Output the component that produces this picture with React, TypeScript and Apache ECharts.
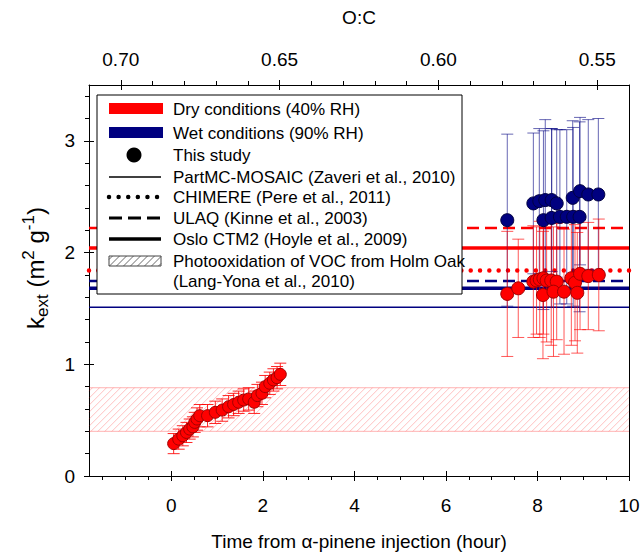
import React, { useEffect, useRef } from "react";
import * as echarts from "echarts";

// ---- axes ----
const timeRange = [-1.8, 10];
const timeTicks = [0, 2, 4, 6, 8, 10];
const timeMinorTicks = [-1.5, -1, -0.5, 0.5, 1, 1.5, 2.5, 3, 3.5, 4.5, 5, 5.5, 6.5, 7, 7.5, 8.5, 9, 9.5];
const ocRange = [0.54, 0.71];
const ocTicks = [0.7, 0.65, 0.6, 0.55];
const ocMinorTicks = [0.69, 0.68, 0.67, 0.66, 0.64, 0.63, 0.62, 0.61, 0.59, 0.58, 0.57, 0.56];
const kRange = [0, 3.5];
const kTicks = [0, 1, 2, 3];
const kMinorTicks = [0.2, 0.4, 0.6, 0.8, 1.2, 1.4, 1.6, 1.8, 2.2, 2.4, 2.6, 2.8, 3.2, 3.4];

// ---- this study: dry (40% RH), early period ----
const dryEarlyTime = [0.05, 0.16, 0.25, 0.33, 0.4, 0.47, 0.51, 0.56, 0.62, 0.79, 0.96, 1.11, 1.25, 1.36, 1.47, 1.58, 1.69, 1.81, 1.88, 1.98, 2.05, 2.15, 2.23, 2.31, 2.38];
const dryEarlyK = [0.29, 0.33, 0.36, 0.39, 0.42, 0.44, 0.48, 0.51, 0.54, 0.54, 0.57, 0.59, 0.62, 0.64, 0.66, 0.68, 0.69, 0.66, 0.72, 0.74, 0.8, 0.83, 0.86, 0.88, 0.91];
const dryEarlyErr = [0.09, 0.09, 0.09, 0.09, 0.09, 0.09, 0.09, 0.1, 0.1, 0.1, 0.1, 0.1, 0.1, 0.1, 0.1, 0.1, 0.1, 0.1, 0.1, 0.1, 0.1, 0.1, 0.1, 0.1, 0.1];

// ---- this study: dry (40% RH), late period ----
const dryLateTime = [7.34, 7.58, 7.91, 7.98, 8.05, 8.13, 8.2, 8.3, 8.42, 8.12, 8.35, 8.58, 8.74, 8.82, 8.87, 8.93, 9.11, 9.34];
const dryLateK = [1.63, 1.68, 1.74, 1.75, 1.76, 1.77, 1.75, 1.75, 1.74, 1.62, 1.65, 1.65, 1.77, 1.73, 1.64, 1.81, 1.79, 1.8];
const dryLateErr = [0.56, 0.44, 0.5, 0.48, 0.52, 0.5, 0.55, 0.58, 0.52, 0.57, 0.58, 0.56, 0.6, 0.52, 0.54, 0.5, 0.48, 0.5];

// ---- this study: wet (90% RH) ----
const wetTime = [7.34, 7.91, 8.04, 8.17, 8.31, 8.42, 8.13, 8.31, 8.49, 8.64, 8.78, 8.92, 8.77, 8.93, 9.11, 9.33];
const wetK = [2.29, 2.44, 2.46, 2.47, 2.47, 2.44, 2.29, 2.31, 2.32, 2.32, 2.32, 2.32, 2.49, 2.55, 2.52, 2.52];
const wetErr = [0.77, 0.63, 0.65, 0.72, 0.64, 0.66, 0.8, 0.8, 0.78, 0.78, 0.8, 0.85, 0.69, 0.66, 0.67, 0.68];

// ---- model / literature values ----
const dryOslo = 2.04;
const dryULAQ = 2.22;
const dryCHIMERE = 1.84;
const wetULAQ = 1.745;
const wetOslo = 1.68;
const wetPartMC = 1.51;
const holmOakRange = [0.4, 0.79];

const legendLabels = [
  "Dry conditions (40% RH)",
  "Wet conditions (90% RH)",
  "This study",
  "PartMC-MOSAIC (Zaveri et al., 2010)",
  "CHIMERE (Pere et al., 2011)",
  "ULAQ (Kinne et al., 2003)",
  "Oslo CTM2 (Hoyle et al., 2009)",
  "Photooxidation of VOC from Holm Oak",
  "(Lang-Yona et al., 2010)",
];

const RED = "#ff0000";
const NAVY = "#000080";
const FONT = "Liberation Sans, Arial, sans-serif";

function zip3(a: number[], b: number[], c: number[]) {
  return a.map((v, i) => [v, b[i], c[i]]);
}

function hLine(v: number, color: string, width: number, type: any, z: number, cap = "butt") {
  return {
    type: "line",
    data: [[timeRange[0], v], [timeRange[1], v]],
    symbol: "none",
    silent: true,
    z,
    lineStyle: { color, width, type, cap },
  };
}

function errorSeries(data: number[][], color: string, z: number) {
  return {
    type: "custom",
    z,
    silent: true,
    data,
    renderItem: (params: any, api: any) => {
      const x = api.value(0);
      const y = api.value(1);
      const e = api.value(2);
      const top = api.coord([x, y + e]);
      const bot = api.coord([x, y - e]);
      const h = 6;
      const st = { stroke: color, lineWidth: 1 };
      return {
        type: "group",
        children: [
          { type: "line", shape: { x1: top[0], y1: top[1], x2: bot[0], y2: bot[1] }, style: st },
          { type: "line", shape: { x1: top[0] - h, y1: top[1], x2: top[0] + h, y2: top[1] }, style: st },
          { type: "line", shape: { x1: bot[0] - h, y1: bot[1], x2: bot[0] + h, y2: bot[1] }, style: st },
        ],
      };
    },
  };
}

function hatchLines(L: number, T: number, R: number, B: number, step: number, style: any) {
  const out: any[] = [];
  for (let c = L + T + step / 2; c < R + B; c += step) {
    const x1 = Math.max(L, c - B);
    const x2 = Math.min(R, c - T);
    if (x2 > x1) out.push({ type: "line", shape: { x1, y1: c - x1, x2, y2: c - x2 }, style });
  }
  return out;
}

export default function App() {
  const ref = useRef<HTMLDivElement>(null);
  useEffect(() => {
    document.body.style.margin = "0";
    const chart = echarts.init(ref.current!, undefined, { renderer: "svg" });
    const axisLine = { show: true, onZero: false, lineStyle: { color: "#000", width: 1 } };
    const noLine = { show: false, onZero: false };
    const labelStyle = { fontSize: 19, color: "#000", fontFamily: FONT };
    const baseX = (extra: any) => ({
      type: "value",
      min: timeRange[0],
      max: timeRange[1],
      position: "bottom",
      splitLine: { show: false },
      ...extra,
    });
    const baseTop = (extra: any) => ({
      type: "value",
      min: ocRange[0],
      max: ocRange[1],
      inverse: true,
      position: "top",
      splitLine: { show: false },
      ...extra,
    });
    const baseY = (extra: any) => ({
      type: "value",
      min: kRange[0],
      max: kRange[1],
      position: "left",
      splitLine: { show: false },
      ...extra,
    });

    const legendX = 109;
    const textX = 173;
    const rowsY = [109, 133, 155, 177, 197, 218, 239, 261, 281];
    const legendEls: any[] = [
      { type: "rect", z: 100, shape: { x: 97, y: 95, width: 365, height: 199 }, style: { fill: "#fff", stroke: "#000", lineWidth: 1 } },
      { type: "rect", z: 101, shape: { x: legendX, y: rowsY[0] - 6, width: 54, height: 11 }, style: { fill: RED } },
      { type: "rect", z: 101, shape: { x: legendX, y: rowsY[1] - 6, width: 54, height: 11 }, style: { fill: NAVY } },
      { type: "circle", z: 101, shape: { cx: 134, cy: rowsY[2], r: 7.5 }, style: { fill: "#000" } },
      { type: "line", z: 101, shape: { x1: legendX, y1: rowsY[3], x2: 161, y2: rowsY[3] }, style: { stroke: "#000", lineWidth: 1.5 } },
      { type: "line", z: 101, shape: { x1: legendX, y1: rowsY[4], x2: 161, y2: rowsY[4] }, style: { stroke: "#000", lineWidth: 4.5, lineDash: [0.01, 9.6], lineCap: "round" } },
      { type: "line", z: 101, shape: { x1: legendX, y1: rowsY[5], x2: 162, y2: rowsY[5] }, style: { stroke: "#000", lineWidth: 3, lineDash: [13, 6] } },
      { type: "line", z: 101, shape: { x1: legendX, y1: rowsY[6], x2: 161, y2: rowsY[6] }, style: { stroke: "#000", lineWidth: 3.5 } },
      { type: "rect", z: 101, shape: { x: legendX, y: rowsY[7] - 5, width: 52, height: 10 }, style: { fill: "#fff", stroke: "#444", lineWidth: 1 } },
      ...hatchLines(legendX, rowsY[7] - 5, legendX + 52, rowsY[7] + 5, 7, { stroke: "#444", lineWidth: 0.8 }).map((e) => ({ ...e, z: 102 })),
      ...legendLabels.map((t, i) => ({
        type: "text",
        z: 101,
        x: textX,
        y: rowsY[i],
        style: { text: t, fontSize: 17, fontFamily: FONT, fill: "#000", align: "left", verticalAlign: "middle" },
      })),
      {
        type: "text",
        z: 101,
        x: 35,
        y: 268,
        rotation: Math.PI / 2,
        style: {
          text: "{a|k}{b|ext}{a| (m}{c|2}{a| g}{c|-1}{a|)}",
          align: "center",
          verticalAlign: "middle",
          fill: "#000",
          rich: {
            a: { fontSize: 24, fontFamily: FONT, lineHeight: 31, fill: "#000" },
            b: { fontSize: 17, fontFamily: FONT, lineHeight: 15, verticalAlign: "bottom", fill: "#000" },
            c: { fontSize: 17, fontFamily: FONT, lineHeight: 15, verticalAlign: "top", fill: "#000" },
          },
        },
      },
    ];

    const option: any = {
      animation: false,
      textStyle: { fontFamily: FONT },
      grid: { left: 89, right: 12, top: 85, bottom: 76, containLabel: false, outerBoundsMode: "none" },
      xAxis: [
        baseX({
          axisLine,
          axisTick: { show: true, customValues: timeTicks, length: 5, lineStyle: { color: "#000" } },
          axisLabel: { ...labelStyle, customValues: timeTicks, margin: 20 },
          name: "Time from \u03b1-pinene injection (hour)",
          nameLocation: "middle",
          nameGap: 56,
          nameTextStyle: { fontSize: 19, color: "#000", fontFamily: FONT },
        }),
        baseX({
          axisLine: noLine,
          axisTick: { show: true, inside: true, customValues: timeTicks, length: 5, lineStyle: { color: "#000" } },
          axisLabel: { show: false },
        }),
        baseX({
          axisLine: noLine,
          axisTick: { show: true, customValues: timeMinorTicks, length: 4, lineStyle: { color: "#000" } },
          axisLabel: { show: false },
        }),
        baseTop({
          axisLine,
          axisTick: { show: true, customValues: ocTicks, length: 5, lineStyle: { color: "#000" } },
          axisLabel: { ...labelStyle, customValues: ocTicks, margin: 16, formatter: (v: number) => v.toFixed(2) },
          name: "O:C",
          nameLocation: "middle",
          nameGap: 58,
          nameTextStyle: { fontSize: 19, color: "#000", fontFamily: FONT },
        }),
        baseTop({
          axisLine: noLine,
          axisTick: { show: true, inside: true, customValues: ocTicks, length: 5, lineStyle: { color: "#000" } },
          axisLabel: { show: false },
        }),
        baseTop({
          axisLine: noLine,
          axisTick: { show: true, customValues: ocMinorTicks, length: 4, lineStyle: { color: "#000" } },
          axisLabel: { show: false },
        }),
      ],
      yAxis: [
        baseY({
          axisLine,
          axisTick: { show: true, customValues: kTicks, length: 5, lineStyle: { color: "#000" } },
          axisLabel: { ...labelStyle, customValues: kTicks, margin: 14 },
        }),
        baseY({
          axisLine: noLine,
          axisTick: { show: true, inside: true, customValues: kTicks, length: 5, lineStyle: { color: "#000" } },
          axisLabel: { show: false },
        }),
        baseY({
          axisLine: noLine,
          axisTick: { show: true, customValues: kMinorTicks, length: 4, lineStyle: { color: "#000" } },
          axisLabel: { show: false },
        }),
        baseY({
          position: "right",
          axisLine,
          axisTick: { show: false },
          axisLabel: { show: false },
        }),
      ],
      graphic: { elements: legendEls },
      series: [
        {
          type: "custom",
          z: 1,
          silent: true,
          data: [[timeRange[0], timeRange[1], holmOakRange[0], holmOakRange[1]]],
          renderItem: (params: any, api: any) => {
            const p1 = api.coord([api.value(0), api.value(3)]);
            const p2 = api.coord([api.value(1), api.value(2)]);
            const L = p1[0], T = p1[1], R = p2[0], B = p2[1];
            const edge = { stroke: "rgba(255,0,0,0.3)", lineWidth: 1 };
            return {
              type: "group",
              children: [
                ...hatchLines(L, T, R, B, 7, { stroke: "rgba(255,0,0,0.28)", lineWidth: 0.9 }),
                { type: "line", shape: { x1: L, y1: T, x2: R, y2: T }, style: edge },
                { type: "line", shape: { x1: L, y1: B, x2: R, y2: B }, style: edge },
              ],
            };
          },
        },
        hLine(wetPartMC, NAVY, 1.6, "solid", 2),
        hLine(wetOslo, NAVY, 3.5, "solid", 2),
        hLine(wetULAQ, NAVY, 2.5, [12, 6], 2),
        hLine(dryCHIMERE, RED, 4.5, [0.01, 9.3], 2, "round"),
        hLine(dryOslo, RED, 3.5, "solid", 2),
        hLine(dryULAQ, RED, 2.5, [12, 6], 2),
        errorSeries(zip3(wetTime, wetK, wetErr), "rgba(0,0,128,0.6)", 3),
        errorSeries(zip3(dryLateTime, dryLateK, dryLateErr), "rgba(255,0,0,0.65)", 3),
        errorSeries(zip3(dryEarlyTime, dryEarlyK, dryEarlyErr), "rgba(255,0,0,0.85)", 3),
        {
          type: "scatter",
          z: 4,
          symbol: "circle",
          symbolSize: 13,
          data: wetTime.map((t, i) => [t, wetK[i]]),
          itemStyle: { color: NAVY, borderColor: "#000040", borderWidth: 1, opacity: 1 },
        },
        {
          type: "scatter",
          z: 5,
          symbol: "circle",
          symbolSize: 13,
          data: dryLateTime.map((t, i) => [t, dryLateK[i]]),
          itemStyle: { color: RED, borderColor: "#a00000", borderWidth: 1, opacity: 1 },
        },
        {
          type: "scatter",
          z: 5,
          symbol: "circle",
          symbolSize: 12,
          data: dryEarlyTime.map((t, i) => [t, dryEarlyK[i]]),
          itemStyle: { color: RED, borderColor: "#a00000", borderWidth: 1, opacity: 1 },
        },
      ],
    };
    chart.setOption(option);
    return () => chart.dispose();
  }, []);
  return <div ref={ref} style={{ width: 641, height: 552 }} />;
}
